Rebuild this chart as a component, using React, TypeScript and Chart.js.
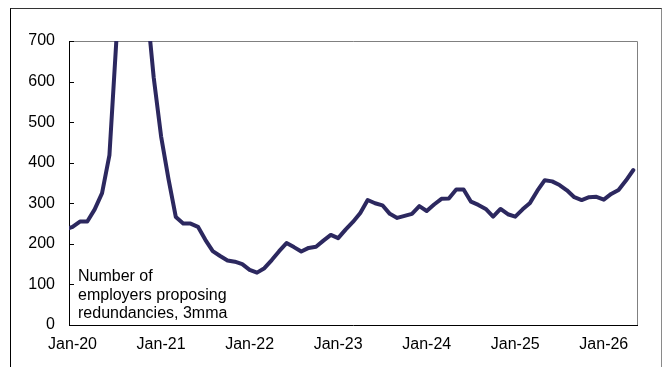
import React, { useEffect, useRef } from "react";
import { Chart, registerables } from "chart.js";

Chart.register(...registerables);

// First value is Dec-19 (month index -1); index 0 = Jan-20
const firstMonthIndex = -1;
const redundancyValues = [
  235, 242, 255, 255, 285, 325, 419, 720, 1200, 1500, 1200, 800, 610, 465, 360, 266,
  250, 250, 242, 210, 182, 170, 159, 156, 150, 136, 129, 140, 160, 182, 202, 192,
  181, 190, 193, 208, 222, 214, 235, 254, 276, 308, 300, 295, 274, 264, 269, 274,
  293, 281, 297, 311, 312, 334, 334, 304, 296, 286, 267, 286, 273, 267, 285, 301,
  331, 357, 354, 345, 332, 315, 308, 315, 316, 309, 323, 333, 356, 382,
];
const xTickPositions = [0, 12, 24, 36, 48, 60, 72];
const xTickLabels = ["Jan-20", "Jan-21", "Jan-22", "Jan-23", "Jan-24", "Jan-25", "Jan-26"];
const yMin = 0;
const yMax = 700;
const yStep = 100;
const annotationLines = ["Number of", "employers proposing", "redundancies, 3mma"];

const FONT = "'Liberation Sans', Arial, sans-serif";
const LINE_COLOR = "#2c285f";

const framePlugin = {
  id: "frame",
  beforeDatasetsDraw(chart: any) {
    const { ctx, chartArea } = chart;
    const { left, right, top, bottom } = chartArea;
    ctx.save();
    ctx.strokeStyle = "#808080";
    ctx.lineWidth = 1;
    ctx.beginPath();
    ctx.moveTo(left, Math.round(top) + 0.5);
    ctx.lineTo(Math.round(right) + 0.5, Math.round(top) + 0.5);
    ctx.lineTo(Math.round(right) + 0.5, bottom);
    ctx.stroke();
    // inside tick marks on y axis
    const ys = chart.scales.y;
    ctx.strokeStyle = "#000";
    ctx.beginPath();
    for (const t of ys.ticks) {
      const py = Math.round(ys.getPixelForValue(t.value)) + 0.5;
      ctx.moveTo(left, py);
      ctx.lineTo(left + 5, py);
    }
    ctx.stroke();
    ctx.restore();
  },
};

export default function App() {
  const canvasRef = useRef<HTMLCanvasElement | null>(null);

  useEffect(() => {
    if (!canvasRef.current) return;
    const points = redundancyValues.map((v, i) => ({ x: i + firstMonthIndex, y: v }));
    const chart = new Chart(canvasRef.current, {
      type: "line",
      data: {
        datasets: [
          {
            data: points,
            borderColor: LINE_COLOR,
            borderWidth: 4,
            pointRadius: 0,
            tension: 0,
            borderJoinStyle: "round",
            borderCapStyle: "round",
            clip: 0,
          } as any,
        ],
      },
      options: {
        animation: false,
        responsive: false,
        maintainAspectRatio: false,
        events: [],
        layout: { padding: { left: 0, right: 30, top: 41, bottom: 0 } },
        plugins: { legend: { display: false }, tooltip: { enabled: false }, title: { display: false } },
        scales: {
          x: {
            type: "linear",
            min: -0.48,
            max: 76.5,
            grid: { display: false, drawTicks: false },
            border: { display: true, color: "#000", width: 1 },
            afterBuildTicks: (s: any) => {
              s.ticks = xTickPositions.map((v) => ({ value: v }));
            },
            afterFit: (s: any) => {
              s.height = 42;
            },
            ticks: {
              autoSkip: false,
              maxRotation: 0,
              padding: 10,
              color: "#000",
              font: { family: FONT, size: 16 },
              callback: (v: any) => {
                const idx = xTickPositions.indexOf(Number(v));
                return idx >= 0 ? xTickLabels[idx] : "";
              },
            },
          },
          y: {
            min: yMin,
            max: yMax,
            grid: { display: false, drawTicks: false },
            border: { display: true, color: "#000", width: 1 },
            afterFit: (s: any) => {
              s.width = 69;
            },
            ticks: {
              stepSize: yStep,
              padding: 14,
              color: "#000",
              font: { family: FONT, size: 16 },
            },
          },
        },
      },
      plugins: [framePlugin],
    });
    return () => chart.destroy();
  }, []);

  return (
    <div style={{ position: "fixed", left: 0, top: 0, width: 667, height: 367, overflow: "hidden", background: "#fff" }}>
      <div
        style={{
          position: "absolute",
          left: 10,
          top: 8,
          width: 650,
          height: 420,
          borderLeft: "1px solid #000",
          borderTop: "1px solid #333",
          borderRight: "1px solid #8a8a8a",
        }}
      />
      <canvas ref={canvasRef} width={667} height={367} style={{ position: "absolute", left: 0, top: 0, width: 667, height: 367 }} />
      <div
        style={{
          position: "absolute",
          left: 78,
          top: 267,
          fontFamily: FONT,
          fontSize: 16,
          lineHeight: "18.5px",
          color: "#000",
          whiteSpace: "nowrap",
        }}
      >
        {annotationLines.map((l, i) => (
          <div key={i}>{l}</div>
        ))}
      </div>
    </div>
  );
}
